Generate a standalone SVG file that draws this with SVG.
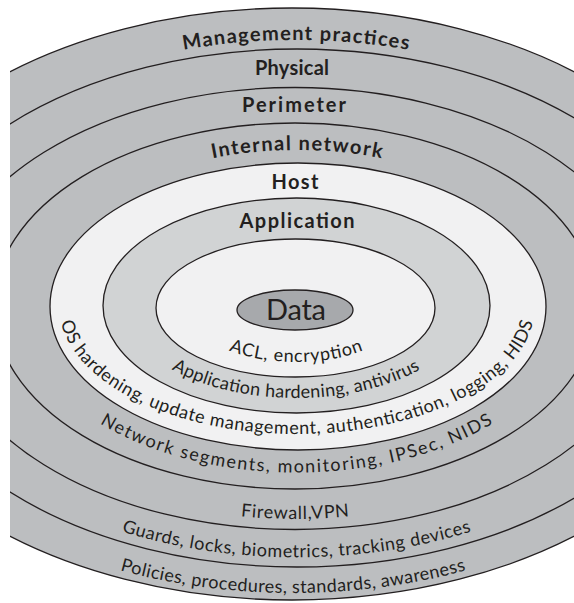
<svg xmlns="http://www.w3.org/2000/svg" width="574" height="603" viewBox="0 0 574 603">
<style>
.ring{stroke:#231f20;stroke-width:1.3}
.g{fill:#bcbec0}
.w{fill:#f1f1f2}
.a{fill:#d1d3d4}
.d{fill:#a7a9ac}
.t{font-family:Lato,"Open Sans","Liberation Sans",sans-serif;fill:#231f20}
.b{font-weight:700;font-size:20px}
.r{font-size:18px}
</style>
<defs>
<clipPath id="clip"><rect x="10" y="0" width="564" height="603"/></clipPath>
<path id="pMgmt" d="M-122,307 A418,267 0 0 1 714,307"/>
<path id="pInt" d="M32,306.3 A265,156.3 0 0 1 562,306.3"/>
<path id="pACL" d="M188,309 A108,53 0 0 0 404,309"/>
<path id="pAppH" d="M125,306.5 A171,91.5 0 0 0 467,306.5"/>
<path id="pOS" d="M59,306 A238,128 0 0 0 535,306"/>
<path id="pNet" d="M19.8,307 A276.6,165.5 0 0 0 573,307"/>
<path id="pFw" d="M-45,308 A340,211 0 0 0 635,308"/>
<path id="pGuards" d="M-97.5,308.3 A394,249 0 0 0 690.5,308.3"/>
<path id="pPol" d="M-152,305 A445,288 0 0 0 738,305"/>
</defs>
<g clip-path="url(#clip)">
<g id="management">
<ellipse class="ring g" cx="292" cy="304" rx="455" ry="296"/>
<text class="t b"><textPath href="#pMgmt" startOffset="50%" text-anchor="middle" textLength="226">Management practices</textPath></text>
<text class="t r"><textPath href="#pPol" startOffset="50%" text-anchor="middle" textLength="350">Policies, procedures, standards, awareness</textPath></text>
</g>
<g id="physical">
<ellipse class="ring g" cx="297" cy="308" rx="408" ry="259"/>
<text class="t b" x="292" y="75" text-anchor="middle" textLength="74">Physical</text>
<text class="t r"><textPath href="#pGuards" startOffset="50%" text-anchor="middle" textLength="355">Guards, locks, biometrics, tracking devices</textPath></text>
</g>
<g id="perimeter">
<ellipse class="ring g" cx="295" cy="308.5" rx="355" ry="221"/>
<text class="t b" x="294" y="112" text-anchor="middle" textLength="104">Perimeter</text>
<text class="t r"><textPath href="#pFw" startOffset="50%" text-anchor="middle" textLength="109">Firewall,VPN</textPath></text>
</g>
<g id="internal-network">
<ellipse class="ring g" cx="295" cy="306" rx="301" ry="183"/>
<text class="t b"><textPath href="#pInt" startOffset="50%" text-anchor="middle" textLength="170">Internal network</textPath></text>
<text class="t r"><textPath href="#pNet" startOffset="50%" text-anchor="middle" textLength="410">Network segments, monitoring, IPSec, NIDS</textPath></text>
</g>
<g id="host">
<ellipse class="ring w" cx="298" cy="306.5" rx="248" ry="143.5"/>
<text class="t b" x="295" y="189" text-anchor="middle" textLength="47">Host</text>
<text class="t r"><textPath href="#pOS" startOffset="50%" text-anchor="middle" textLength="555">OS hardening, update management, authentication, logging, HIDS</textPath></text>
</g>
<g id="application">
<ellipse class="ring a" cx="296.5" cy="305.5" rx="193.5" ry="107.5"/>
<text class="t b" x="297" y="228" text-anchor="middle" textLength="115">Application</text>
<text class="t r"><textPath href="#pAppH" startOffset="50%" text-anchor="middle" textLength="258">Application hardening, antivirus</textPath></text>
</g>
<g id="data">
<ellipse class="ring w" cx="295.5" cy="308" rx="139.5" ry="69"/>
<ellipse class="ring d" cx="295" cy="310" rx="58" ry="20"/>
<text class="t" x="296" y="320" font-size="29" text-anchor="middle" textLength="60">Data</text>
<text class="t r"><textPath href="#pACL" startOffset="50%" text-anchor="middle" textLength="137">ACL, encryption</textPath></text>
</g>
</g>
</svg>
